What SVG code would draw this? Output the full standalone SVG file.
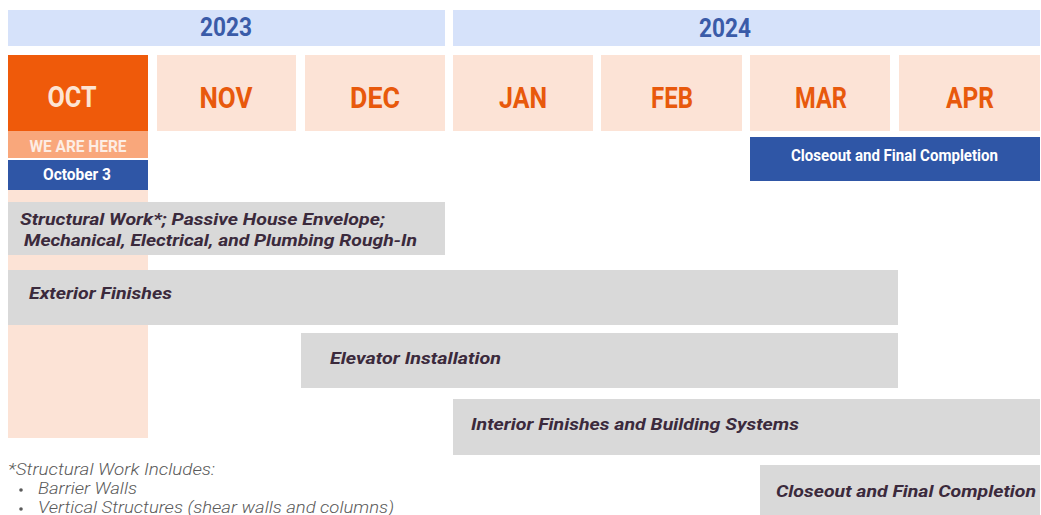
<svg xmlns="http://www.w3.org/2000/svg" width="1041" height="515" viewBox="0 0 1041 515">
<style>
.year{fill:#D6E2FA}
.yt{font-family:Roboto,"Liberation Sans",sans-serif;font-weight:700;font-size:25px;fill:#3A5BA8;text-anchor:middle}
.mon{fill:#FCE3D6}
.mt{font-family:Roboto,"Liberation Sans",sans-serif;font-weight:700;font-size:30px;fill:#E8590C;text-anchor:middle}
.bar{fill:#D9D9D9}
.bt{font-family:Roboto,"Liberation Sans",sans-serif;font-weight:700;font-style:italic;font-size:17px;fill:#3B2A3C}
.lt{font-family:Roboto,"Liberation Sans",sans-serif;font-weight:700;font-size:17px;text-anchor:middle}
.fn{font-family:Roboto,"Liberation Sans",sans-serif;font-weight:300;font-style:italic;font-size:16px;fill:#5A5A5A}
</style>
<rect width="1041" height="515" fill="#FFFFFF"/>
<g id="year-2023"><rect class="year" x="8" y="10" width="437" height="36"/><text class="yt" x="226" y="36" textLength="52" lengthAdjust="spacingAndGlyphs">2023</text></g>
<g id="year-2024"><rect class="year" x="453" y="10" width="587" height="36"/><text class="yt" x="725" y="37" textLength="52" lengthAdjust="spacingAndGlyphs">2024</text></g>
<g id="oct-column"><rect x="8" y="190" width="140" height="248" fill="#FCE3D6"/></g>
<g id="oct"><rect x="8" y="55" width="140" height="76" fill="#EF5A0A"/><text class="mt" x="72" y="107" textLength="49" lengthAdjust="spacingAndGlyphs" fill="#FDE4D4" style="fill:#FDE4D4">OCT</text></g>
<g id="nov"><rect class="mon" x="157" y="55" width="139" height="76"/><text class="mt" x="226" y="108" textLength="53" lengthAdjust="spacingAndGlyphs">NOV</text></g>
<g id="dec"><rect class="mon" x="305" y="55" width="140" height="76"/><text class="mt" x="375" y="108" textLength="50" lengthAdjust="spacingAndGlyphs">DEC</text></g>
<g id="jan"><rect class="mon" x="453" y="55" width="140" height="76"/><text class="mt" x="523" y="108" textLength="48" lengthAdjust="spacingAndGlyphs">JAN</text></g>
<g id="feb"><rect class="mon" x="601" y="55" width="141" height="76"/><text class="mt" x="672" y="108" textLength="42" lengthAdjust="spacingAndGlyphs">FEB</text></g>
<g id="mar"><rect class="mon" x="750" y="55" width="140" height="76"/><text class="mt" x="821" y="108" textLength="52" lengthAdjust="spacingAndGlyphs">MAR</text></g>
<g id="apr"><rect class="mon" x="899" y="55" width="141" height="76"/><text class="mt" x="970" y="108" textLength="48" lengthAdjust="spacingAndGlyphs">APR</text></g>
<g id="we-are-here"><rect x="8" y="131" width="140" height="27" fill="#F9A77B"/><text class="lt" x="78" y="152" fill="#FDEDE4" textLength="97" lengthAdjust="spacingAndGlyphs">WE ARE HERE</text></g>
<g id="october-3"><rect x="8" y="160" width="140" height="30" fill="#2F56A6"/><text class="lt" x="77" y="180" fill="#FFFFFF" textLength="68" lengthAdjust="spacingAndGlyphs">October 3</text></g>
<g id="closeout-milestone"><rect x="750" y="137" width="290" height="44" fill="#2F56A6"/><text class="lt" x="894.5" y="161" fill="#FFFFFF" textLength="207" lengthAdjust="spacingAndGlyphs">Closeout and Final Completion</text></g>
<g id="structural"><rect class="bar" x="8" y="202" width="437" height="53"/><text class="bt" x="20" y="225" textLength="365" lengthAdjust="spacingAndGlyphs">Structural Work*; Passive House Envelope;</text><text class="bt" x="24" y="246" textLength="393" lengthAdjust="spacingAndGlyphs">Mechanical, Electrical, and Plumbing Rough-In</text></g>
<g id="exterior"><rect class="bar" x="8" y="270" width="890" height="55"/><text class="bt" x="29" y="299" textLength="143" lengthAdjust="spacingAndGlyphs">Exterior Finishes</text></g>
<g id="elevator"><rect class="bar" x="301" y="333" width="597" height="55"/><text class="bt" x="330" y="364" textLength="171" lengthAdjust="spacingAndGlyphs">Elevator Installation</text></g>
<g id="interior"><rect class="bar" x="453" y="399" width="587" height="56"/><text class="bt" x="471" y="430" textLength="328" lengthAdjust="spacingAndGlyphs">Interior Finishes and Building Systems</text></g>
<g id="closeout"><rect class="bar" x="760" y="465" width="280" height="50"/><text class="bt" x="776" y="497" textLength="260" lengthAdjust="spacingAndGlyphs">Closeout and Final Completion</text></g>
<g id="connectors"></g>
<g id="footnote">
<text class="fn" x="8" y="475" textLength="207" lengthAdjust="spacingAndGlyphs">*Structural Work Includes:</text>
<circle cx="21" cy="490" r="1.8" fill="#5A5A5A"/>
<text class="fn" x="38" y="494" textLength="99" lengthAdjust="spacingAndGlyphs">Barrier Walls</text>
<circle cx="21" cy="509" r="1.8" fill="#5A5A5A"/>
<text class="fn" x="38" y="513" textLength="356" lengthAdjust="spacingAndGlyphs">Vertical Structures (shear walls and columns)</text>
</g>
</svg>
